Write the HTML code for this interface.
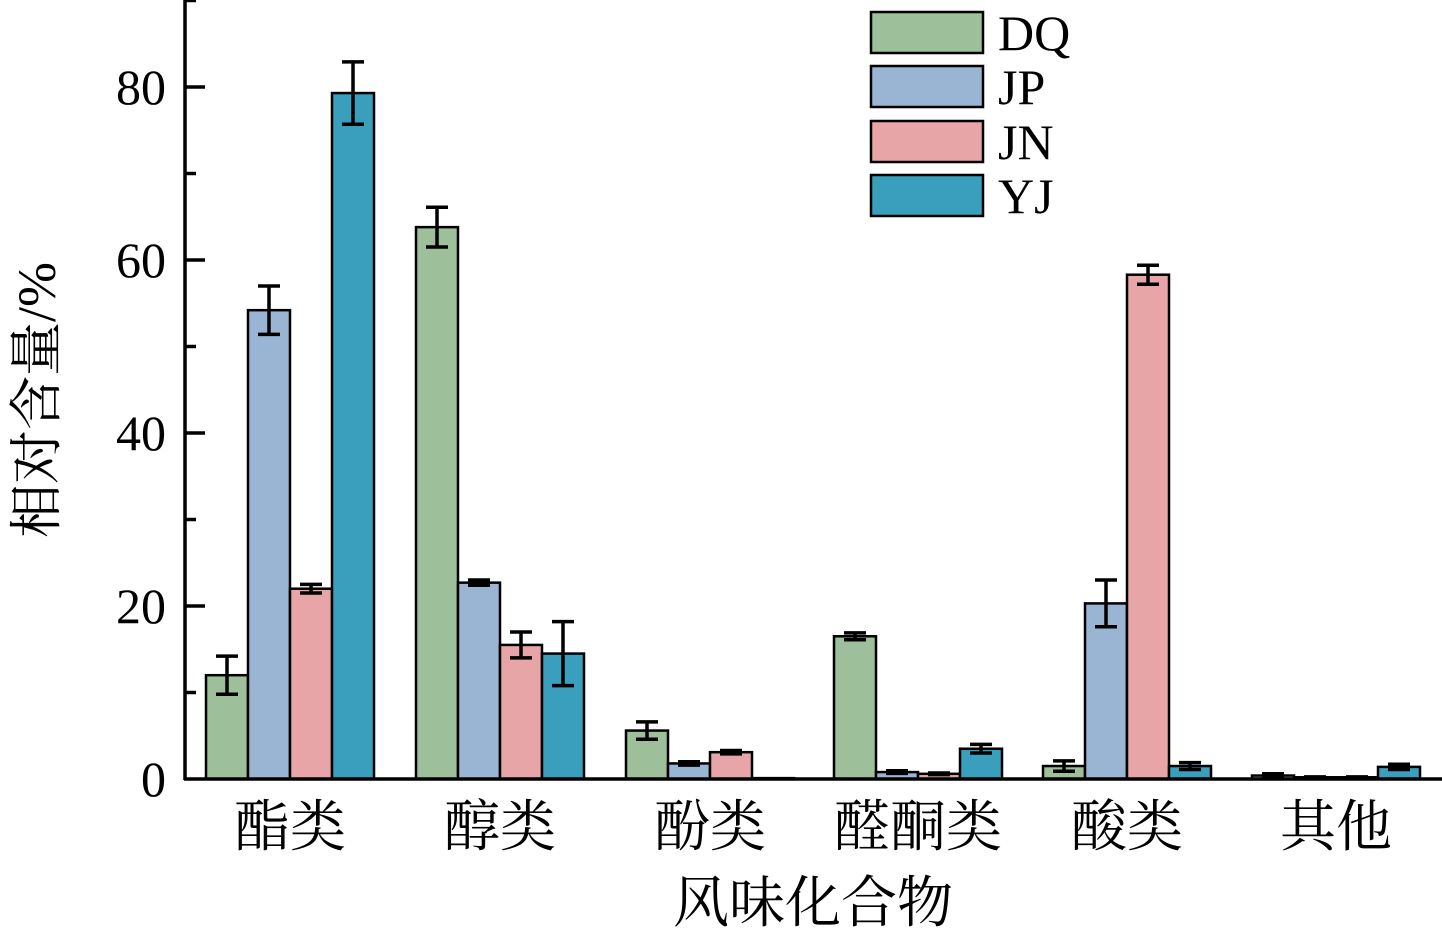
<!DOCTYPE html>
<html><head><meta charset="utf-8"><style>body{margin:0;background:#fff}svg{display:block}</style></head><body>
<svg width="1442" height="929" xmlns="http://www.w3.org/2000/svg" font-family="'Liberation Serif','Noto Serif CJK SC',serif">
<g id="bars" stroke="#000" stroke-width="2.5"></g>
<g id="errs" stroke="#000" stroke-width="3.5"></g>
<line x1="185" y1="0" x2="185" y2="780" stroke="#000" stroke-width="3.5"/>
<line x1="184" y1="779" x2="1442" y2="779" stroke="#000" stroke-width="3.5"/>
<g stroke="#000" stroke-width="3.5" id="ticks"></g>
<g font-size="50" text-anchor="end" fill="#000">
<text x="166" y="796">0</text><text x="166" y="623">20</text><text x="166" y="450">40</text><text x="166" y="277">60</text><text x="166" y="104">80</text>
</g>
<g font-size="56" text-anchor="middle" fill="#000">
<text x="290" y="846">酯类</text><text x="500" y="846">醇类</text><text x="710" y="846">酚类</text><text x="918" y="846">醛酮类</text><text x="1127" y="846">酸类</text><text x="1336" y="846">其他</text>
<text x="813" y="922">风味化合物</text>
</g>
<text transform="translate(55,400) rotate(-90)" font-size="54" text-anchor="middle">相对含量/%</text>
<g stroke="#000" stroke-width="2.5">
<rect x="871" y="12" width="112" height="41" fill="#9dbf9a"/>
<rect x="871" y="66" width="112" height="41" fill="#9ab4d3"/>
<rect x="871" y="121" width="112" height="41" fill="#e8a5a8"/>
<rect x="871" y="175" width="112" height="41" fill="#3a9fbd"/>
</g>
<g font-size="50" fill="#000">
<text x="998" y="50">DQ</text><text x="998" y="104">JP</text><text x="998" y="159">JN</text><text x="998" y="213">YJ</text>
</g>
<script>
var d=[[[12,2.2],[54.2,2.8],[22,0.5],[79.3,3.6]],[[63.8,2.3],[22.7,0.3],[15.5,1.5],[14.5,3.7]],[[5.6,1],[1.8,0.2],[3.1,0.2],[0.1,0]],[[16.5,0.4],[0.8,0.15],[0.6,0.1],[3.5,0.5]],[[1.5,0.6],[20.3,2.7],[58.3,1.1],[1.5,0.4]],[[0.4,0.2],[0.2,0.05],[0.2,0.05],[1.4,0.3]]];
var c=['#9dbf9a','#9ab4d3','#e8a5a8','#3a9fbd'],cx=[290,500,710,918,1127,1336],k=8.65,y0=779,ns='http://www.w3.org/2000/svg';
var B=document.getElementById('bars'),E=document.getElementById('errs'),T=document.getElementById('ticks');
function el(p,t,a){var e=document.createElementNS(ns,t);for(var i in a)e.setAttribute(i,a[i]);p.appendChild(e);}
d.forEach(function(g,gi){g.forEach(function(v,i){var x=cx[gi]-84+i*42,y=y0-v[0]*k;
el(B,'rect',{x:x,y:y,width:42,height:y0-y,fill:c[i]});
if(v[1]>0){var xm=x+21,a=y0-(v[0]+v[1])*k,b=y0-(v[0]-v[1])*k;
el(E,'line',{x1:xm,y1:a,x2:xm,y2:b});el(E,'line',{x1:xm-11,y1:a,x2:xm+11,y2:a});el(E,'line',{x1:xm-11,y1:b,x2:xm+11,y2:b});}});});
for(var v=10;v<=90;v+=10){var y=y0-v*k;el(T,'line',{x1:185,y1:y,x2:v%20==0?205:196,y2:y});}
</script>
</svg>
</body></html>
